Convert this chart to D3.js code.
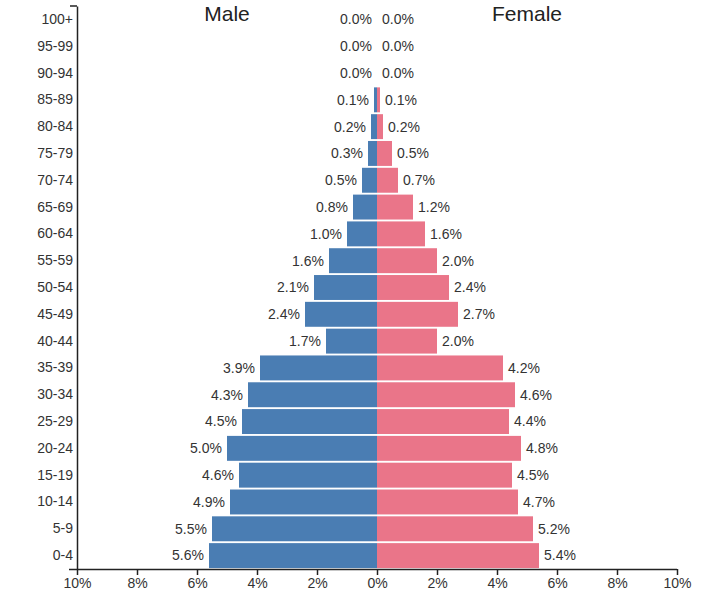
<!DOCTYPE html>
<html>
<head>
<meta charset="utf-8">
<script src="https://cdn.jsdelivr.net/npm/d3@7"></script>
<style>
  html, body { margin: 0; padding: 0; background: #fff; }
  svg { display: block; font-family: "Liberation Sans", Arial, Helvetica, sans-serif; }
</style>
</head>
<body>
<svg id="chart" width="709" height="601"></svg>
<script>
const ageGroups = ["100+","95-99","90-94","85-89","80-84","75-79","70-74","65-69","60-64","55-59","50-54","45-49","40-44","35-39","30-34","25-29","20-24","15-19","10-14","5-9","0-4"];
const maleValues = [0.0,0.0,0.0,0.1,0.2,0.3,0.5,0.8,1.0,1.6,2.1,2.4,1.7,3.9,4.3,4.5,5.0,4.6,4.9,5.5,5.6];
const femaleValues = [0.0,0.0,0.0,0.1,0.2,0.5,0.7,1.2,1.6,2.0,2.4,2.7,2.0,4.2,4.6,4.4,4.8,4.5,4.7,5.2,5.4];
const xTickValues = [-10,-8,-6,-4,-2,0,2,4,6,8,10];
const titles = ["Male","Female"];

const svg = d3.select("#chart");
const x = d3.scaleLinear().domain([-10, 10]).range([77, 677]);
const y = d3.scaleBand().domain(ageGroups).range([6, 569]).paddingInner(0.07).paddingOuter(0.035);

const maleColor = "#4a7db3";
const femaleColor = "#ea7589";
const textColor = "#333";

// bars
svg.append("g").selectAll("rect.male").data(ageGroups).join("rect")
  .attr("class","male")
  .attr("x", (d,i) => x(-maleValues[i]))
  .attr("y", d => y(d))
  .attr("width", (d,i) => x(0) - x(-maleValues[i]))
  .attr("height", y.bandwidth())
  .attr("fill", maleColor);

svg.append("g").selectAll("rect.female").data(ageGroups).join("rect")
  .attr("class","female")
  .attr("x", x(0))
  .attr("y", d => y(d))
  .attr("width", (d,i) => x(femaleValues[i]) - x(0))
  .attr("height", y.bandwidth())
  .attr("fill", femaleColor);

// value labels
svg.append("g").selectAll("text").data(ageGroups).join("text")
  .attr("x", (d,i) => x(-maleValues[i]) - 5)
  .attr("y", d => y(d) + y.bandwidth()/2)
  .attr("dy", "0.35em")
  .attr("text-anchor", "end")
  .attr("font-size", 14)
  .attr("fill", textColor)
  .text((d,i) => maleValues[i].toFixed(1) + "%");

svg.append("g").selectAll("text").data(ageGroups).join("text")
  .attr("x", (d,i) => x(femaleValues[i]) + 5)
  .attr("y", d => y(d) + y.bandwidth()/2)
  .attr("dy", "0.35em")
  .attr("text-anchor", "start")
  .attr("font-size", 14)
  .attr("fill", textColor)
  .text((d,i) => femaleValues[i].toFixed(1) + "%");

// axes
const yAxis = svg.append("g")
  .attr("transform", `translate(${x(-10)},0)`)
  .call(d3.axisLeft(y).tickSize(0).tickPadding(4));
yAxis.selectAll("text").attr("font-size", 14).attr("fill", textColor).attr("font-family", null);
yAxis.select(".domain").attr("stroke", "#222").attr("stroke-width", 1.5);

const xAxis = svg.append("g")
  .attr("transform", `translate(0,569)`)
  .call(d3.axisBottom(x).tickValues(xTickValues).tickSize(6).tickSizeOuter(0).tickFormat(d => Math.abs(d) + "%"));
xAxis.selectAll("text").attr("font-size", 14).attr("fill", textColor).attr("font-family", null);
xAxis.select(".domain").attr("stroke", "#222").attr("stroke-width", 1.5).attr("d", `M${x(-10)-8},0.5H${x(10)}`);
xAxis.selectAll(".tick line").attr("stroke", "#222").attr("stroke-width", 1.5);

// top outer tick of y axis
svg.append("line").attr("x1", x(-10) - 7).attr("x2", x(-10)).attr("y1", 6).attr("y2", 6)
  .attr("stroke", "#222").attr("stroke-width", 1.5);

// titles
svg.append("g").selectAll("text").data(titles).join("text")
  .attr("x", (d,i) => i === 0 ? x(-5) : x(5))
  .attr("y", 21)
  .attr("text-anchor", "middle")
  .attr("font-size", 21)
  .attr("fill", "#222")
  .text(d => d);
</script>
</body>
</html>
